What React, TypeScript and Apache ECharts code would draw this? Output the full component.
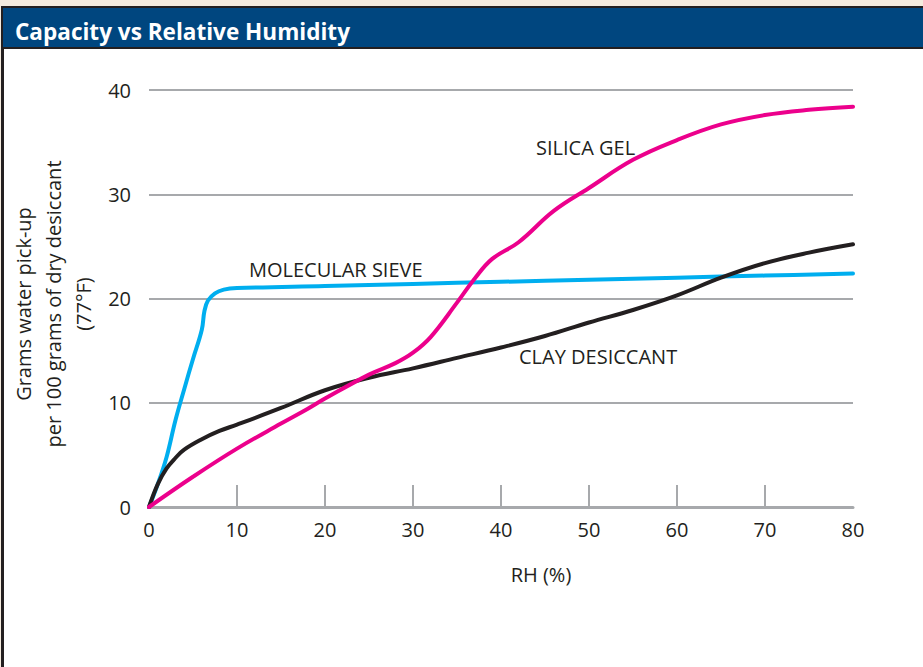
import React, { useEffect, useRef } from "react";
import * as echarts from "echarts";

const xTicks = [0, 10, 20, 30, 40, 50, 60, 70, 80];
const yTicks = [0, 10, 20, 30, 40];
const innerTicks = [10, 20, 30, 40, 50, 60, 70];

const molecularSieve: [number, number][] = [
  [0, 0], [1, 2.2], [2, 4.8], [3, 8.3], [4, 11.3], [5, 14.2], [6, 17], [6.3, 18.8],
  [6.7, 19.8], [7.5, 20.5], [8.5, 20.85], [10, 21], [20, 21.2], [30, 21.4], [40, 21.6],
  [50, 21.8], [60, 22], [70, 22.2], [80, 22.4],
];

const clayDesiccant: [number, number][] = [
  [0, 0], [1, 2.2], [2, 3.7], [3, 4.7], [4, 5.5], [6, 6.5], [8, 7.3], [10, 7.9], [15, 9.5],
  [20, 11.2], [25, 12.4], [30, 13.3], [35, 14.3], [40, 15.3], [45, 16.4], [50, 17.7],
  [55, 18.9], [60, 20.3], [65, 22], [70, 23.4], [75, 24.4], [80, 25.2],
];

const silicaGel: [number, number][] = [
  [0, 0], [5, 2.9], [10, 5.6], [15, 8], [18, 9.4], [20, 10.4], [25, 12.7], [28, 13.8],
  [30, 14.8], [32, 16.3], [35, 19.6], [37, 21.9], [39, 23.8], [42, 25.4], [46, 28.4],
  [50, 30.6], [55, 33.3], [60, 35.2], [65, 36.7], [70, 37.6], [75, 38.1], [80, 38.4],
];

const seriesNames = ["MOLECULAR SIEVE", "CLAY DESICCANT", "SILICA GEL"];
const titleText = "Capacity vs Relative Humidity";
const yName = ["Grams water pick-up", "per 100 grams of dry desiccant", "(77°F)"];
const xName = "RH (%)";

const FONT = "'Open Sans', 'Noto Sans', sans-serif";
const TEXT = "#231f20";
const GRAY = "#a7a9ac";

export default function App() {
  const ref = useRef<HTMLDivElement>(null);
  useEffect(() => {
    if (!ref.current) return;
    const chart = echarts.init(ref.current, null, { renderer: "svg" });
    const lineSeries = (name: string, data: [number, number][], color: string, z: number) => ({
      type: "line",
      name,
      data,
      smooth: 0.4,
      showSymbol: false,
      z,
      lineStyle: { color, width: 4, cap: "round", join: "round" },
    });
    chart.setOption({
      animation: false,
      backgroundColor: "#f4ebdf",
      textStyle: { fontFamily: FONT },
      grid: { left: 149, right: 70, top: 90, bottom: 160, containLabel: false },
      xAxis: {
        type: "value",
        min: 0,
        max: 80,
        interval: 10,
        axisLine: { show: true, lineStyle: { color: GRAY, width: 3 } },
        axisTick: {
          show: true,
          inside: true,
          length: 22,
          customValues: innerTicks,
          lineStyle: { color: GRAY, width: 2 },
        },
        axisLabel: {
          color: TEXT,
          fontSize: 20,
          fontFamily: FONT,
          margin: 12,
          customValues: xTicks,
        },
        splitLine: { show: false },
      },
      yAxis: {
        type: "value",
        min: 0,
        max: 40,
        interval: 10,
        axisLine: { show: false },
        axisTick: { show: false },
        axisLabel: { color: TEXT, fontSize: 20, fontFamily: FONT, margin: 18, customValues: yTicks },
        splitLine: { show: true, lineStyle: { color: GRAY, width: 2 } },
      },
      graphic: [
        { type: "rect", z: -10, shape: { x: 1, y: 6, width: 922, height: 661 }, style: { fill: "#231f20" } },
        { type: "rect", z: -9, shape: { x: 3, y: 8, width: 920, height: 39 }, style: { fill: "#00467f" } },
        { type: "rect", z: -9, shape: { x: 4, y: 49, width: 919, height: 618 }, style: { fill: "#ffffff" } },
        {
          type: "text",
          x: 15,
          y: 31,
          scaleX: 0.94,
          style: {
            text: titleText,
            fill: "#ffffff",
            fontSize: 24,
            fontWeight: "bold",
            fontFamily: FONT,
            textVerticalAlign: "middle",
          },
        },
        {
          type: "text",
          x: 53,
          y: 304,
          rotation: Math.PI / 2,
          style: {
            text: yName.join("\n"),
            fill: TEXT,
            fontSize: 20,
            lineHeight: 30,
            fontFamily: FONT,
            textAlign: "center",
            textVerticalAlign: "middle",
          },
        },
        {
          type: "text",
          x: 541,
          y: 574,
          style: { text: xName, fill: TEXT, fontSize: 20, fontFamily: FONT, textAlign: "center", textVerticalAlign: "middle" },
        },
        {
          type: "text",
          x: 249,
          y: 269,
          style: { text: seriesNames[0], fill: TEXT, fontSize: 20, fontFamily: FONT, textVerticalAlign: "middle" },
        },
        {
          type: "text",
          x: 519,
          y: 356,
          style: { text: seriesNames[1], fill: TEXT, fontSize: 20, fontFamily: FONT, textVerticalAlign: "middle" },
        },
        {
          type: "text",
          x: 536,
          y: 147,
          style: { text: seriesNames[2], fill: TEXT, fontSize: 20, fontFamily: FONT, textVerticalAlign: "middle" },
        },
      ],
      series: [
        lineSeries(seriesNames[0], molecularSieve, "#00aeef", 2),
        lineSeries(seriesNames[1], clayDesiccant, "#231f20", 3),
        lineSeries(seriesNames[2], silicaGel, "#ec008c", 4),
      ],
    });
    return () => chart.dispose();
  }, []);
  return (
    <div
      ref={ref}
      style={{ position: "fixed", left: 0, top: 0, width: 923, height: 667 }}
    />
  );
}
